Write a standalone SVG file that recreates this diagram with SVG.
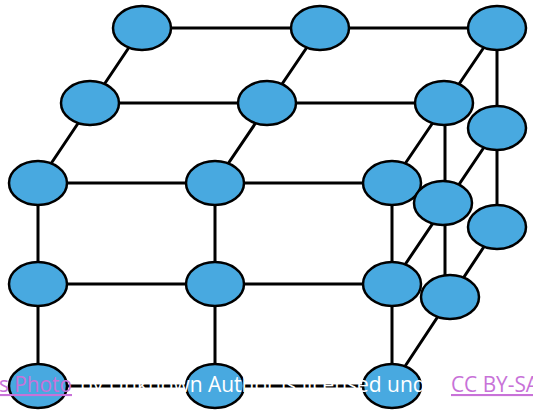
<svg xmlns="http://www.w3.org/2000/svg" width="533" height="411" viewBox="0 0 533 411">
<style>
.e{stroke:#000;stroke-width:3;stroke-linecap:round}
.n{fill:#48A9E0;stroke:#000;stroke-width:2.5}
.t{font-family:"Open Sans","Liberation Sans",sans-serif;font-size:21px}
.lk{fill:#C872D8;text-decoration:underline}
.w{fill:#fff}
</style>
<rect width="533" height="411" fill="#fff"/>
<g id="connectors" class="e">
<line x1="142" y1="28" x2="497" y2="28"/>
<line x1="90" y1="103" x2="444" y2="103"/>
<line x1="38" y1="183" x2="392" y2="183"/>
<line x1="38" y1="284" x2="392" y2="284"/>
<line x1="38" y1="386" x2="392" y2="386"/>
<line x1="38" y1="183" x2="38" y2="386"/>
<line x1="215" y1="183" x2="215" y2="386"/>
<line x1="392" y1="183" x2="392" y2="386"/>
<line x1="38" y1="183" x2="142" y2="28"/>
<line x1="215" y1="183" x2="320" y2="28"/>
<line x1="392" y1="183" x2="497" y2="28"/>
<line x1="392" y1="284" x2="497" y2="128"/>
<line x1="392" y1="386" x2="497" y2="227"/>
<line x1="497" y1="28" x2="497" y2="227"/>
<line x1="445" y1="103" x2="445" y2="297"/>
</g>
<g id="n1"><ellipse class="n" cx="142" cy="28" rx="29" ry="22"/></g>
<g id="n2"><ellipse class="n" cx="320" cy="28" rx="29" ry="22"/></g>
<g id="n3"><ellipse class="n" cx="497" cy="28" rx="29" ry="22"/></g>
<g id="n4"><ellipse class="n" cx="90" cy="103" rx="29" ry="22"/></g>
<g id="n5"><ellipse class="n" cx="267" cy="103" rx="29" ry="22"/></g>
<g id="n6"><ellipse class="n" cx="444" cy="103" rx="29" ry="22"/></g>
<g id="n7"><ellipse class="n" cx="497" cy="128" rx="29" ry="22"/></g>
<g id="n8"><ellipse class="n" cx="38" cy="183" rx="29" ry="22"/></g>
<g id="n9"><ellipse class="n" cx="215" cy="183" rx="29" ry="22"/></g>
<g id="n10"><ellipse class="n" cx="392" cy="183" rx="29" ry="22"/></g>
<g id="n11"><ellipse class="n" cx="443" cy="203" rx="29" ry="22"/></g>
<g id="n12"><ellipse class="n" cx="497" cy="227" rx="29" ry="22"/></g>
<g id="n13"><ellipse class="n" cx="38" cy="284" rx="29" ry="22"/></g>
<g id="n14"><ellipse class="n" cx="215" cy="284" rx="29" ry="22"/></g>
<g id="n15"><ellipse class="n" cx="392" cy="284" rx="29" ry="22"/></g>
<g id="n16"><ellipse class="n" cx="450" cy="297" rx="29" ry="22"/></g>
<g id="n17"><ellipse class="n" cx="38" cy="386" rx="29" ry="22"/></g>
<g id="n18"><ellipse class="n" cx="215" cy="386" rx="29" ry="22"/></g>
<g id="n19"><ellipse class="n" cx="392" cy="386" rx="29" ry="22"/></g>
<text class="t lk" x="-1" y="392" textLength="73" lengthAdjust="spacingAndGlyphs">s Photo</text>
<text class="t w" x="80" y="392" textLength="366" lengthAdjust="spacingAndGlyphs">by Unknown Author is licensed under</text>
<text class="t lk" x="451" y="392" textLength="88" lengthAdjust="spacingAndGlyphs">CC BY-SA</text>
</svg>
